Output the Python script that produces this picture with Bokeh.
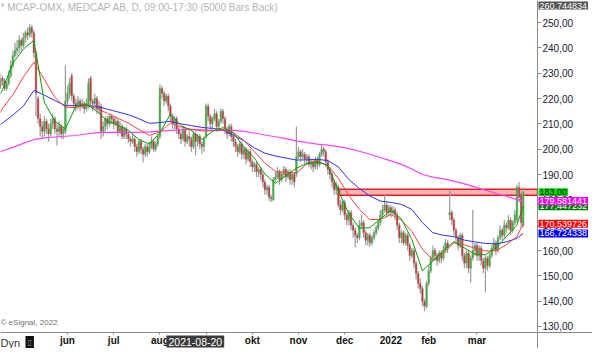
from bokeh.plotting import figure
from bokeh.models import Range1d, FixedTicker, Label, ColumnDataSource, LinearAxis
from bokeh.embed import file_html
from bokeh.resources import INLINE

# ---- daily OHLC, one bar per trading day ----
opens = [224,226,227,224,225,228,227,224,226,229,
         233,237,239,240,243,241,244,246,245,248,
         246,238,220,212,209,207,211,208,206,210,
         212,208,207,209,206,207,219,222,229,221,
         218,217,219,217,218,216,217,228,219,218,
         220,216,217,207,209,212,210,213,212,210,
         211,207,209,205,208,206,204,203,204,201,
         199,203,200,198,201,199,201,203,200,202,
         205,224,222,219,221,217,213,210,212,208,
         206,204,208,203,205,204,201,206,203,205,
         202,201,205,217,213,210,212,214,209,211,
         215,212,208,206,209,205,203,201,199,202,
         198,200,196,199,195,193,194,191,192,190,
         187,184,185,181,180,188,189,191,188,190,
         192,189,191,188,190,190,197,199,197,198,
         196,197,194,195,193,196,194,198,200,199,
         195,192,190,187,184,185,178,176,179,174,
         172,175,170,168,166,165,170,171,167,164,
         166,163,165,167,169,171,174,176,178,175,
         177,175,176,174,170,165,167,163,166,162,
         158,160,155,151,147,145,140,138,147,152,
         157,160,158,156,159,157,160,163,174,175,
         172,168,165,162,166,158,155,159,153,157,
         160,162,158,161,156,153,157,154,158,161,
         163,160,165,168,166,170,169,172,168,171,
         172,185,182,170]
closes = [226,227,224,225,228,227,224,226,229,233,
          237,239,240,243,241,244,246,245,248,246,
          238,222,212,209,207,211,208,206,210,212,
          208,207,209,206,208,219,222,226,221,218,
          217,219,217,218,216,218,226,219,218,220,
          216,217,207,209,212,210,213,212,210,211,
          207,209,205,208,206,204,203,204,201,199,
          203,200,198,201,199,201,203,200,202,205,
          224,222,219,221,217,213,210,212,208,206,
          204,208,203,205,204,201,206,203,205,202,
          201,204,217,213,210,212,214,209,211,215,
          212,208,206,209,205,203,201,199,202,198,
          200,196,199,195,193,194,191,192,190,187,
          184,185,181,180.5,188,189,191,188,190,192,
          189,191,188,190,187,197,199,197,198,196,
          197,194,195,193,196,194,198,200,199,195,
          192,190,187,184,186,178,176,179,174,172,
          175,170,168,166,165,170,171,167,164,166,
          163,165,167,169,171,174,176,178,175,177,
          175,176,174,170,165,167,163,166,162,158,
          160,155,151,147,145,140,138,147,152,157,
          160,158,156,159,157,160,163,161,175,172,
          168,165,162,166,158,155,159,153,157,160,
          162,158,161,156,153,157,154,158,161,163,
          160,165,168,166,170,169,172,168,171,174,
          185,181,171,183]
highs = [228,229,228,227,230,229,228,227,231,235,
         239,242,243,245,244,246,247,248,249.5,249,
         247,239,221,214,211,213,212,210,212,214,
         213,210,211,210,209,233,225,228,230,222,
         220,221,220,220,219,220,228,229,220,222,
         221,219,218,211,213,213,214,214,213,213,
         212,211,210,209,209,207,205,206,205,202,
         204,204,201,202,202,203,205,204,203,206,
         225.5,225,223,222,222,218,214,213,213,209,
         207,209,209,206,207,205,207,207,206,206,
         203,205,218,218,214,213,216,215,212,216,
         216,213,209,210,210,206,204,202,203,203,
         201,201,200,200,196,195,195,193,193,191,
         188,186,186,182,189,191,193,192,191,193.5,
         193,192,192,191,191,209,201,200,200,199,
         198,198,196,196,197,197,199,202,201,200,
         196,193,191,188,187,186,180,180,180,175,
         176,176,171,169,167,172,174,172,168,167,
         167,166,168,170,172,176,178,182,179,178,
         178,177.5,177,175,171,168,168,167,167,163,
         161,161,156,152,149,146,141,148,154,158,
         162,161,159,160,160,162,164.5,164,184,176,
         173,169,166,167,167,159,160,160,158,176,
         163,163,162,162,157,158,158,159,162,165,
         164,166,170,169,172,171,174,173,172,176,
         186,187,183,185]
lows = [222,224,223,223,224,225,223,223,225,228,
        232,236,237,238,239,240,242,243,244,244,
        236,213,210,205,204,205,206,203,205,208,
        206,201.5,205,204,204,206,217,220,219,216,
        215,216,215,216,214,215,216,217,215,217,
        214,214,204,205,207,208,209,210,208,209,
        205,206,204,204,204,202.5,201,202,199,197,
        198,198,194.7,197,197,198,200,199,199,201,
        204,220,217,218,215,211,208,208,206,204,
        202,203,201,202,201,199,200,197.5,201,200,
        198,199,204,211,208,208,211,207,207,210,
        210,206,204,205,203,201,199,197,198,196,
        196,194,195,193,191,191,189,189,188,185,
        182,182,179.5,179,179.5,187,188,186,187,189,
        187,188,186,186,185,189,196,195,196,194,
        194,193,192,191,192,192,193,197,197,193,
        190,188,185,182,182,177,174,175,172,170,
        170,168,165,161.2,163,164,169,165,162,162,
        161.5,162,164,166,168,170,173,175,173,174,
        173,174,172,168,163,163,162,162,160,156,
        157,153,148.6,145,143,138,136,137,146,151,
        156,156,154,155,155,156,159,159,172,170,
        166,163,160,161,156,153,153,151,147.4,156,
        158,156,156,154,151,143.4,152,153,157,160,
        158,159,164,164,165,167,168,166,167,170,
        171,179,169,169]

# ---- moving averages at every 5th bar (+ last bar) ----
ma_bars = [0,5,10,15,20,25,30,35,40,45,50,55,60,65,70,75,80,85,90,95,
           100,105,110,115,120,125,130,135,140,145,150,155,160,165,170,175,
           180,185,190,195,200,205,210,215,220,225,230,235,240,245,250,253]
ma_green = [216.4,223.3,234,239.5,243,218.5,211,208,217,217.8,215,211,209.5,207.5,
            203.8,202,206.5,213.8,209.3,207.3,203.8,207,208.5,206.5,200.8,196.5,190.2,
            186.5,189.5,192.5,194.3,195,193.5,183.5,174.5,168.8,169,172.5,175.8,172.5,
            164.3,152,155.8,160,163.5,161,158.5,158.3,161,165.5,170,177.45]
ma_red = [208.6,216,221.5,228.5,234.3,227.5,220.4,216.5,216.5,217.4,216,214.2,212.2,
          210.3,207.8,205.4,206.8,210.3,208.8,207.8,207.2,207.3,207.8,206.5,203.5,199,
          194.5,191.3,190.8,190.6,194.2,195.3,193.5,188.5,181.7,176.2,172.2,172.3,174.2,
          172,167.5,160.5,156.3,159,163,162.2,160.9,159.8,159.9,162.3,165.5,170.54]
ma_blue = [207.4,210.3,213.5,217,223.2,221.3,219.2,217.2,217.2,217.2,216.9,215.8,214.7,
           213.6,212,210.2,210.5,211,210,209.3,208.6,208.2,207.7,205.5,203.3,200.5,198.4,
           197.3,196.5,195.7,195.8,196,195.5,193,188,184.5,181.5,179.5,179,178.2,176.2,
           171,167,166,165.5,164.1,163.4,162.8,162.6,163.4,164.8,166.72]
ma_magenta = [197.9,199.3,200.7,202.3,203.8,204.5,204.8,205.1,205.4,206,206.5,206.6,
              206.6,206.6,206.6,206.8,207.1,207.4,207.6,207.8,207.6,207.4,207.4,207.4,
              207,206.4,205.6,204.9,204.2,203.3,202.6,202,201.6,201,200.2,199.2,198,
              196.7,195.4,194,192.2,190,189,188.3,187.4,186.3,185.1,183.8,182.6,181.4,
              180.1,179.58]

# ---- resistance zone ----
zone_start_bar = 165.5
zone_low = 181.8
zone_high = 184.2

# ---- axis ticks ----
month_bars = [36, 58, 80, 102, 124, 146, 168, 190, 208, 231]
month_labels = ["jun", "jul", "aug", "sep", "okt", "nov", "dec", "2022", "feb", "mar"]
price_ticks = [130, 140, 150, 160, 170, 180, 190, 200, 210, 220, 230, 240, 250]

# ---- last-value tags ----
tag_values = [177.447232, 179.581441, 183.00, 170.539726, 166.724338]
tag_texts = ["177,447232", "179,581441", "183,00", "170,539726", "166,724338"]
tag_bg = ["#008000", "#ff00ff", "#00e000", "#ff0000", "#0000ff"]
tag_fg = ["white", "white", "black", "white", "white"]

FONT = "Liberation Sans"
W, H = 592, 348
X0, X1 = 4.1, 286.0          # whole canvas width in bar units
Y0, Y1 = 121.31, 258.7       # whole canvas height in price units
AXIS_X = 259.81              # price-axis position (bar units)
AXIS_Y = 127.63              # time-axis position (price units)

p = figure(width=W, height=H, x_range=Range1d(X0, X1), y_range=Range1d(Y0, Y1),
           x_axis_location=None, y_axis_location=None,
           output_backend="svg", toolbar_location=None,
           min_border_left=0, min_border_right=0, min_border_top=0, min_border_bottom=0)
p.background_fill_color = "white"
p.border_fill_color = "white"
p.outline_line_color = None
p.xgrid.visible = False
p.ygrid.visible = False

# zone
p.quad(left=[zone_start_bar], right=[AXIS_X], bottom=[zone_low], top=[zone_high],
       fill_color="#f8b4b4", fill_alpha=1.0, line_color="#e02020", line_width=1.5)

# candles
idx = list(range(len(closes)))
up = [c >= o for o, c in zip(opens, closes)]
src = ColumnDataSource(dict(
    x=idx, h=highs, l=lows,
    top=[max(o, c) for o, c in zip(opens, closes)],
    bottom=[min(o, c) for o, c in zip(opens, closes)],
    color=["#22c422" if u else "#e02020" for u in up],
))
p.segment(x0="x", y0="l", x1="x", y1="h", source=src, line_color="#9a9a9a", line_width=1.2)
p.vbar(x="x", width=0.8, top="top", bottom="bottom", source=src,
       fill_color="color", line_color="#8c8c8c", line_width=0.5)

# moving averages
p.line(ma_bars, ma_magenta, line_color="#ff40ff", line_width=1.2)
p.line(ma_bars, ma_blue, line_color="#3030ff", line_width=1.0)
p.line(ma_bars, ma_red, line_color="#ff4040", line_width=1.0)
p.line(ma_bars, ma_green, line_color="#00a000", line_width=1.0)

# time axis (drawn at a fixed location along the bottom)
xa = LinearAxis(fixed_location=AXIS_Y)
xa.ticker = FixedTicker(ticks=month_bars)
xa.major_label_overrides = {b: t for b, t in zip(month_bars, month_labels)}
xa.major_label_text_font = FONT
xa.major_label_text_font_size = "10px"
xa.major_label_text_font_style = "bold"
xa.major_label_text_color = "#111111"
xa.major_label_standoff = 1
xa.major_tick_out = 2
xa.major_tick_in = 0
xa.minor_tick_out = 0
xa.minor_tick_in = 0
xa.axis_line_color = "#8a8a8a"
xa.major_tick_line_color = "#8a8a8a"
p.add_layout(xa, "below")

# price axis (drawn at a fixed location on the right)
ya = LinearAxis(fixed_location=AXIS_X)
ya.ticker = FixedTicker(ticks=price_ticks)
ya.major_label_overrides = {v: f"{v},00" for v in price_ticks}
ya.major_label_text_font = FONT
ya.major_label_text_font_size = "10px"
ya.major_label_text_color = "#202030"
ya.major_label_standoff = 1
ya.major_tick_out = 4
ya.major_tick_in = 0
ya.minor_tick_out = 0
ya.minor_tick_in = 0
ya.axis_line_color = "#8a8a8a"
ya.major_tick_line_color = "#8a8a8a"
p.add_layout(ya, "right")

# texts (screen units: from the left / bottom of the plotting area)
p.add_layout(Label(x=0, y=H - 1, x_units="screen", y_units="screen",
                   text="* MCAP-OMX, MEDCAP AB, D, 09:00-17:30 (5000 Bars Back)",
                   text_font=FONT, text_font_size="10px", text_color="#b4b4b4",
                   text_baseline="top"))
p.add_layout(Label(x=0, y=22, x_units="screen", y_units="screen",
                   text="© eSignal, 2022", text_font=FONT, text_font_size="8px",
                   text_color="#707070", text_baseline="bottom"))
p.add_layout(Label(x=0, y=6, x_units="screen", y_units="screen",
                   text="Dyn", text_font=FONT, text_font_size="11px",
                   text_color="#333333", text_baseline="middle"))
p.add_layout(Label(x=25, y=6, x_units="screen", y_units="screen",
                   text="▯", text_font="DejaVu Sans", text_font_size="8px",
                   text_color="#9a9a9a", text_baseline="middle",
                   background_fill_color="#111111", padding=2))
p.add_layout(Label(x=166, y=7, x_units="screen", y_units="screen",
                   text="2021-08-20", text_font=FONT, text_font_size="10.5px",
                   text_color="white", text_baseline="middle",
                   background_fill_color="#3c3c3c", padding=2))
p.add_layout(Label(x=538, y=H - 1, x_units="screen", y_units="screen",
                   text="260,744834", text_font=FONT, text_font_size="9px",
                   text_color="white", text_baseline="top",
                   background_fill_color="#555555", padding=1))

for v, t, bg, fg in zip(tag_values, tag_texts, tag_bg, tag_fg):
    p.add_layout(Label(x=538, y=v, x_units="screen", y_units="data",
                       text=t, text_font=FONT, text_font_size="9px",
                       text_color=fg, text_baseline="middle",
                       background_fill_color=bg, padding=1))

open("out.html", "w").write(file_html(p, INLINE))
